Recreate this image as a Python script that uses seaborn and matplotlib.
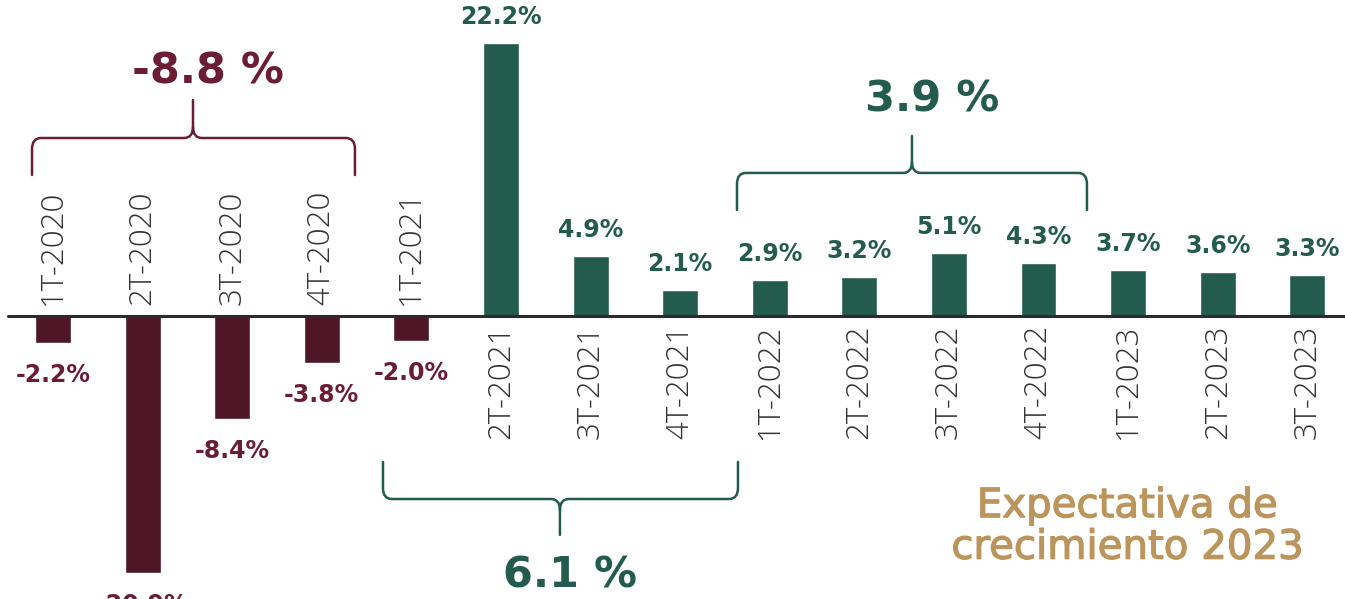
import matplotlib
matplotlib.use("Agg")
import matplotlib.pyplot as plt
import matplotlib.patheffects as pe
from matplotlib.path import Path
from matplotlib.patches import PathPatch
import numpy as np
import pandas as pd
import seaborn as sns

# Datos: crecimiento trimestral del PIB (%)
trimestres = ["1T-2020", "2T-2020", "3T-2020", "4T-2020", "1T-2021", "2T-2021",
              "3T-2021", "4T-2021", "1T-2022", "2T-2022", "3T-2022", "4T-2022",
              "1T-2023", "2T-2023", "3T-2023"]
crecimiento = [-2.2, -20.9, -8.4, -3.8, -2.0, 22.2, 4.9, 2.1, 2.9, 3.2, 5.1, 4.3,
               3.7, 3.6, 3.3]
etiquetas = ["-2.2%", "-20.9%", "-8.4%", "-3.8%", "-2.0%", "22.2%", "4.9%", "2.1%",
             "2.9%", "3.2%", "5.1%", "4.3%", "3.7%", "3.6%", "3.3%"]

# Resumenes anuales
resumen_textos = ["-8.8 %", "6.1 %", "3.9 %"]

GUINDA = "#4f1628"
GUINDA_TXT = "#6b1d35"
VERDE = "#235b4e"
DORADO = "#bc955c"
GRIS = "#333333"

sns.set_style("white")
plt.rcParams["font.family"] = ["Open Sans", "DejaVu Sans"]
NEGRITA = ["DejaVu Sans"]

datos = pd.DataFrame({"trimestre": trimestres, "valor": crecimiento})
datos["signo"] = np.where(datos["valor"] < 0, "neg", "pos")

fig = plt.figure(figsize=(13.45, 5.99), dpi=100)
ax = fig.add_axes([0, 0, 1, 1])

sns.barplot(data=datos, x="trimestre", y="valor", hue="signo", order=trimestres,
            palette={"neg": GUINDA, "pos": VERDE}, dodge=False, width=0.40,
            legend=False, ax=ax, saturation=1)

ax.set_xlim(-0.5915, 14.42)
ax.set_ylim(-23.01, 25.69)
ax.set_xticks([])
ax.set_yticks([])
ax.set_xlabel("")
ax.set_ylabel("")
for s in ax.spines.values():
    s.set_visible(False)

ax.axhline(0, xmin=0.006, xmax=1, color="#2b2b2b", lw=2.2, zorder=3)

# Etiquetas de valor y de trimestre
for i, (v, et, tr) in enumerate(zip(crecimiento, etiquetas, trimestres)):
    if v < 0:
        ax.annotate(et, (i, v), xytext=(0, -32), textcoords="offset pixels",
                    ha="center", va="center", fontsize=17, fontweight="bold",
                    family=NEGRITA, color=GUINDA_TXT)
        ax.text(i, 0.9, tr, rotation=90, ha="center", va="bottom", fontsize=22.5,
                fontweight="light", color=GRIS)
    else:
        ax.annotate(et, (i, v), xytext=(0, 26), textcoords="offset pixels",
                    ha="center", va="center", fontsize=17, fontweight="bold",
                    family=NEGRITA, color=VERDE)
        ax.text(i, -0.73, tr, rotation=90, ha="center", va="top", fontsize=22.5,
                fontweight="light", color=GRIS)


def llave(ax, x0, x1, xc, y_fin, y_barra, y_pico, color, rx=0.1, ry=0.9):
    s = 1 if y_pico > y_barra else -1
    verts = [
        (x0, y_fin), (x0, y_barra - s * ry), (x0, y_barra), (x0 + rx, y_barra),
        (xc - rx, y_barra), (xc, y_barra), (xc, y_barra + s * ry), (xc, y_pico),
        (xc, y_barra + s * ry), (xc, y_barra), (xc + rx, y_barra),
        (x1 - rx, y_barra), (x1, y_barra), (x1, y_barra - s * ry), (x1, y_fin),
    ]
    codes = [Path.MOVETO, Path.LINETO, Path.CURVE3, Path.CURVE3,
             Path.LINETO, Path.CURVE3, Path.CURVE3, Path.LINETO,
             Path.MOVETO, Path.CURVE3, Path.CURVE3,
             Path.LINETO, Path.CURVE3, Path.CURVE3, Path.LINETO]
    ax.add_patch(PathPatch(Path(verts, codes), fill=False, edgecolor=color,
                           lw=1.8, capstyle="round"))


llave(ax, -0.234, 3.37, 1.5625, 11.46, 14.47, 17.56, GUINDA_TXT)
llave(ax, 3.683, 7.645, 5.658, -11.87, -14.88, -17.8, VERDE)
llave(ax, 7.634, 11.54, 9.587, 8.62, 11.63, 14.63, VERDE)

ax.text(1.73, 19.84, resumen_textos[0], ha="center", va="center", fontsize=31,
        fontweight="bold", family=NEGRITA, color=GUINDA_TXT)
ax.text(5.77, -21.06, resumen_textos[1], ha="center", va="center", fontsize=31,
        fontweight="bold", family=NEGRITA, color=VERDE)
ax.text(9.81, 17.56, resumen_textos[2], ha="center", va="center", fontsize=31,
        fontweight="bold", family=NEGRITA, color=VERDE)

ax.text(11.99, -17.15, "Expectativa de\ncrecimiento 2023", ha="center",
        va="center", fontsize=29, family=["DejaVu Sans"], color=DORADO,
        linespacing=1.05,
        path_effects=[pe.withStroke(linewidth=0.9, foreground=DORADO)])

fig.savefig("out.png", dpi=100)
